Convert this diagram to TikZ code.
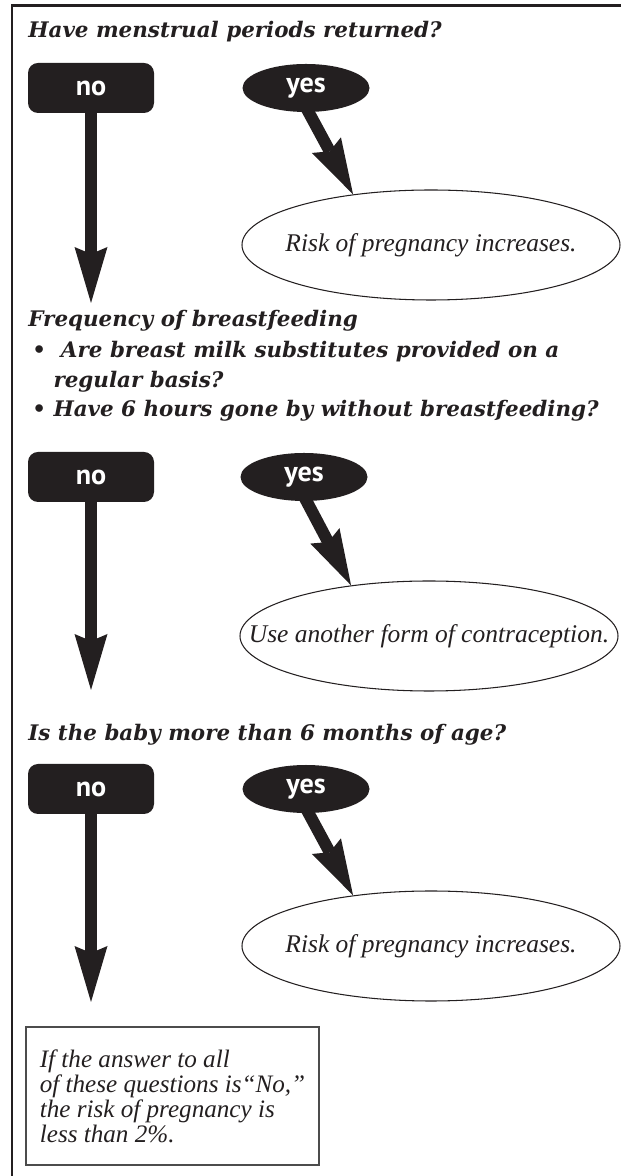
\documentclass[tikz,border=0pt]{standalone}
\usepackage{fontspec}
\newfontfamily\headfont{DejaVu Serif}
\newfontfamily\bodyfont{Liberation Serif}
\newfontfamily\tagfont{PT Sans}
\usetikzlibrary{arrows.meta,shapes.geometric}
\definecolor{ink}{HTML}{231F20}

\begin{document}
\begin{tikzpicture}[
  ink,
  head/.style={anchor=base west, inner sep=0pt, align=left,
    font=\headfont\bfseries\itshape\fontsize{12.2}{17}\selectfont},
  answer/.style={fill=ink, text=white, inner sep=0pt,
    font=\tagfont\bfseries\fontsize{16}{16}\selectfont},
  nobox/.style={answer, rounded corners=0.2cm, minimum width=2.52cm, minimum height=1.0cm},
  yesbox/.style={answer, ellipse, minimum width=2.54cm, minimum height=0.96cm},
  outcome/.style={draw=ink, ellipse, line width=0.6pt, inner xsep=-1cm, inner ysep=0pt,
    minimum width=7.56cm, minimum height=2.2cm,
    font=\bodyfont\itshape\fontsize{14.5}{14.5}\selectfont},
  note/.style={draw=black!70, line width=0.8pt, align=left,
    inner xsep=0.28cm, minimum width=5.78cm, minimum height=2.76cm,
    font=\bodyfont\itshape\fontsize{14.3}{14.2}\selectfont},
  arr/.style={draw=ink, line width=0.24cm,
    -{Stealth[length=1.12cm, width=0.66cm, inset=0.14cm, line width=0pt]}},
]
  \useasboundingbox (0,0) rectangle (12.42,23.52);
  \draw[line width=1.7pt] (0.24,0) -- (0.24,23.40) -- (12.42,23.40);

  % Periods
  \node[head] (q1) at (0.56,22.76) {Have menstrual periods returned?};
  \node[nobox] (no1) at (1.82,21.76) {no};
  \node[yesbox] (yes1) at (6.12,21.76) {yes};
  \node[outcome] (ell1) at (8.62,18.62) {Risk of pregnancy increases.};
  \coordinate (noend1) at (1.82,17.46);
  \draw[arr] (no1.south) -- (noend1);
  \draw[arr] ([yshift=0.1cm]yes1.south) -- (ell1.147);

  % Breastfeeding
  \node[head] (q2) at (0.56,16.98) {Frequency of breastfeeding};
  \node[head] (q2list) at (0.64,15.18)
    {\textbullet\ \ Are breast milk substitutes provided on a\\
     \hphantom{\textbullet\ }regular basis?\\
     \textbullet\ Have 6 hours gone by without breastfeeding?};
  \node[nobox] (no2) at (1.82,13.98) {no};
  \node[yesbox] (yes2) at (6.08,13.98) {yes};
  \node[outcome] (ell2) at (8.58,10.80) {Use another form of contraception.};
  \coordinate (noend2) at (1.82,9.72);
  \draw[arr] (no2.south) -- (noend2);
  \draw[arr] ([yshift=0.1cm]yes2.south) -- (ell2.147);

  % Baby's age
  \node[head] (q3) at (0.56,8.70) {Is the baby more than 6 months of age?};
  \node[nobox] (no3) at (1.82,7.74) {no};
  \node[yesbox] (yes3) at (6.12,7.74) {yes};
  \node[outcome] (ell3) at (8.62,4.60) {Risk of pregnancy increases.};
  \coordinate (noend3) at (1.82,3.48);
  \draw[arr] (no3.south) -- (noend3);
  \draw[arr] ([yshift=0.1cm]yes3.south) -- (ell3.147);

  \node[note] (summary) at (3.45,1.60)
    {If the answer to all\\
     of these questions is“No,”\\
     the risk of pregnancy is\\
     less than 2\%.};
\end{tikzpicture}
\end{document}
